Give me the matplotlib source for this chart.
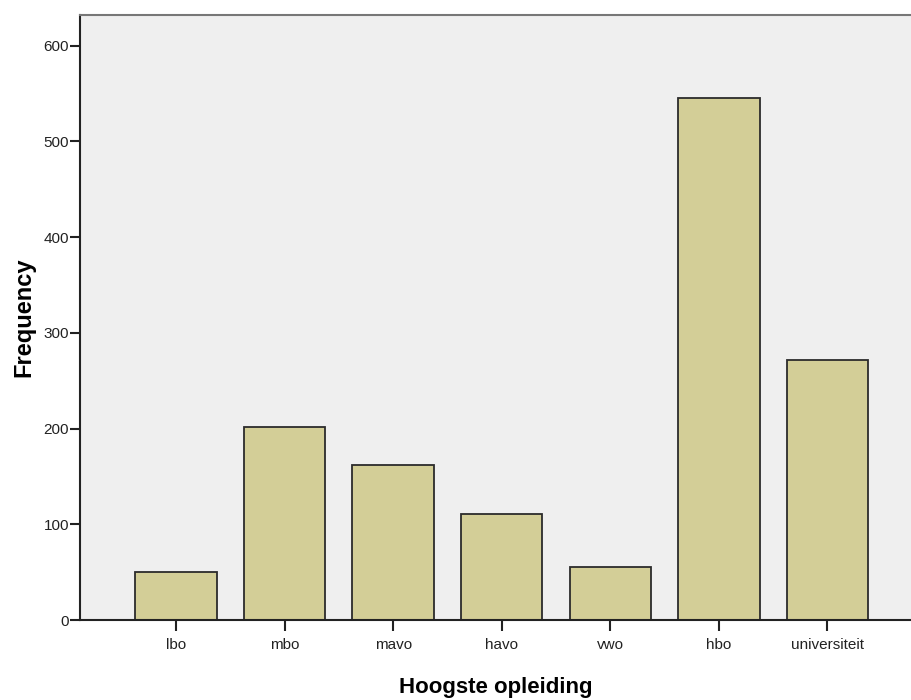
import matplotlib
matplotlib.use('Agg')
import matplotlib.pyplot as plt

# frequencies per education level
categories = ['lbo', 'mbo', 'mavo', 'havo', 'vwo', 'hbo', 'universiteit']
counts = [50, 202, 162, 111, 55, 545, 272]
y_ticks = [0, 100, 200, 300, 400, 500, 600]

plt.rcParams['font.family'] = ['Liberation Sans', 'DejaVu Sans']

fig = plt.figure(figsize=(9.11, 7), dpi=100)
ax = fig.add_axes([80/911, 80/700, 1 - 80/911, 605/700])
ax.set_facecolor('#efefef')

x = list(range(len(categories)))
ax.bar(x, counts, width=0.75, color='#d3ce97', edgecolor='#2b2b2b', linewidth=1.3, zorder=2)

ax.set_xlim(-0.885, 6.77)
ax.set_ylim(0, 632)
ax.set_xticks(x)
ax.set_xticklabels(categories, fontsize=11, color='#222222')
ax.set_yticks(y_ticks)
ax.set_yticklabels([str(t) for t in y_ticks], fontsize=11, color='#222222')
ax.tick_params(axis='x', length=8, width=1.5, color='#222222', pad=5)
ax.tick_params(axis='y', length=7, width=1.5, color='#222222', pad=1)

ax.spines['right'].set_visible(False)
ax.spines['left'].set_linewidth(1.5)
ax.spines['bottom'].set_linewidth(1.5)
ax.spines['top'].set_linewidth(1.5)
ax.spines['top'].set_color('#777777')
ax.spines['left'].set_color('#222222')
ax.spines['bottom'].set_color('#222222')

ax.set_xlabel('Hoogste opleiding', fontsize=16, fontweight='bold', labelpad=18)
ax.set_ylabel('Frequency', fontsize=17, fontweight='bold', labelpad=6)

fig.savefig('out.png', dpi=100)
